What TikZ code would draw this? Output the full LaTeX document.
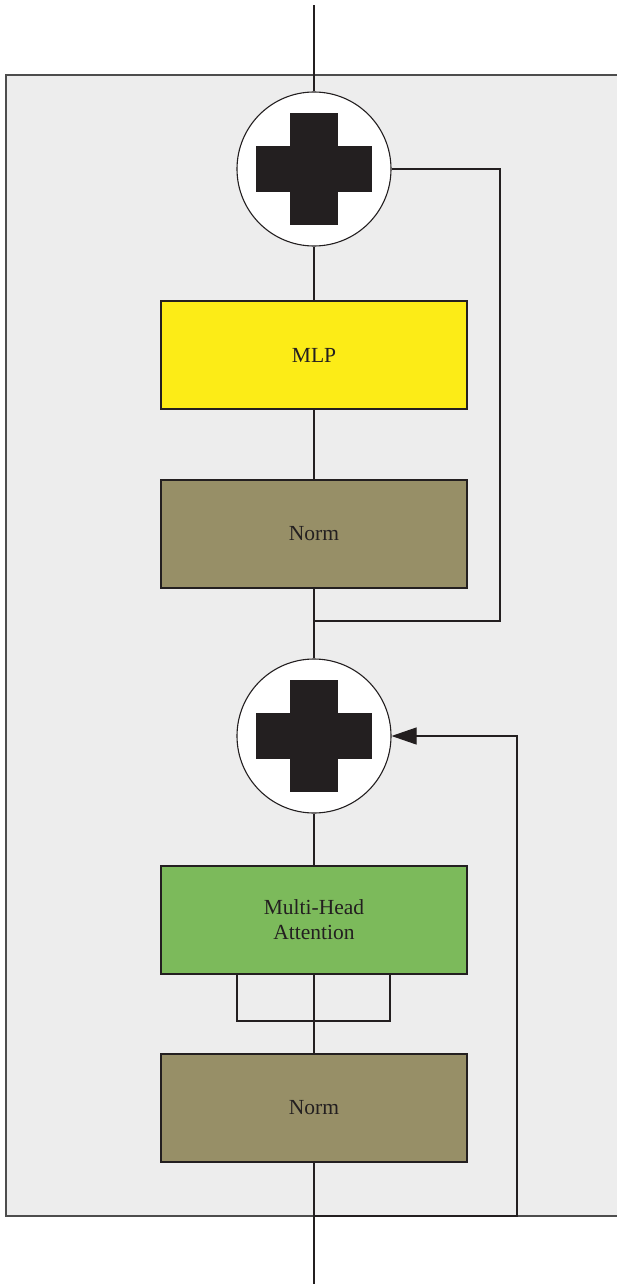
\documentclass[tikz,border=0pt]{standalone}
\usepackage{fontspec}
\setmainfont{Liberation Serif}
\usetikzlibrary{arrows.meta}
\definecolor{blockgray}{HTML}{EDEDED}
\definecolor{blockline}{HTML}{4D4D4D}
\definecolor{inkdark}{HTML}{231F20}
\definecolor{mlpyellow}{HTML}{FCEC17}
\definecolor{normolive}{HTML}{978F67}
\definecolor{attngreen}{HTML}{7CBA5B}
\tikzset{
  layer/.style={draw=inkdark,line width=1.1pt,minimum width=306pt,
    minimum height=108pt,inner sep=0pt,align=center,text=inkdark,
    font=\fontsize{21.5}{25}\selectfont},
  adder/.style={circle,draw=inkdark,fill=white,line width=1.1pt,
    minimum size=154pt,inner sep=0pt},
  wire/.style={draw=inkdark,line width=1.1pt},
  residual/.style={wire,-{Triangle[length=25pt,width=17pt]}}
}
% plus sign drawn inside an adder node
\newcommand{\plusmark}[1]{
  \fill[inkdark] ([shift={(-58,-23)}]#1.center) rectangle ([shift={(58,23)}]#1.center);
  \fill[inkdark] ([shift={(-24,-56)}]#1.center) rectangle ([shift={(24,56)}]#1.center);
}
\begin{document}
\begin{tikzpicture}[x=1pt,y=-1pt]
  \useasboundingbox (0,0) rectangle (616,1284);
  \draw[fill=blockgray,draw=blockline,line width=1.2pt] (6,75) rectangle (640,1216);

  \coordinate (input) at (314,1284);
  \coordinate (output) at (314,5);

  \node[adder] (add2) at (314,169) {};
  \node[layer,fill=mlpyellow] (mlp) at (314,355) {MLP};
  \node[layer,fill=normolive] (norm2) at (314,534) {Norm};
  \node[adder] (add1) at (314,736) {};
  \node[layer,fill=attngreen] (mha) at (314,920) {Multi-Head\\Attention};
  \node[layer,fill=normolive] (norm1) at (314,1108) {Norm};
  \plusmark{add2}
  \plusmark{add1}

  % main path
  \draw[wire] (norm1.south) -- (input);
  \draw[wire] (add2.north) -- (output);
  \draw[wire] (add2.south) -- (mlp.north);
  \draw[wire] (mlp.south) -- (norm2.north);
  \draw[wire] (norm2.south) -- (add1.north);
  \draw[wire] (add1.south) -- (mha.north);

  % query, key, value
  \coordinate (qry) at (237,1021);
  \coordinate (val) at (314,1021);
  \coordinate (key) at (390,1021);
  \draw[wire] (mha.south) -- (val) -- (norm1.north);
  \draw[wire] (mha.south -| qry) -- (qry) -- (key) -- (mha.south -| key);

  % skip connections
  \coordinate (skip1a) at (314,1216);
  \coordinate (skip1b) at (517,1216);
  \draw[residual] (skip1a) -- (skip1b) |- (add1.east);
  \coordinate (skip2a) at (500,621);
  \coordinate (skip2b) at (314,621);
  \draw[wire] (add2.east) -| (skip2a) -- (skip2b);
\end{tikzpicture}
\end{document}
